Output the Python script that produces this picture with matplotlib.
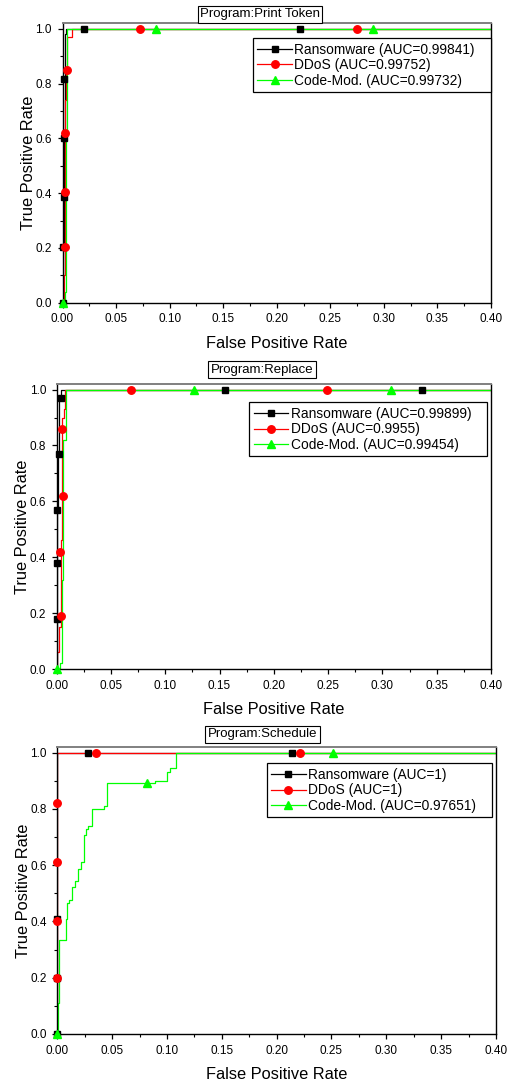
import matplotlib
matplotlib.use("Agg")
import matplotlib.pyplot as plt
from matplotlib.lines import Line2D
from matplotlib.ticker import MultipleLocator

plt.rcParams['font.family'] = ['Liberation Sans', 'DejaVu Sans']

# ---------------- data ----------------
series_names = ["Ransomware", "DDoS", "Code-Mod."]
titles = ["Program:Print Token", "Program:Replace", "Program:Schedule"]

# Panel 1: Print Token
auc_p1 = ["0.99841", "0.99752", "0.99732"]
p1_rans_fpr = [0, 0, 0.001, 0.002, 0.003, 0.4]
p1_rans_tpr = [0, 0.21, 0.62, 0.98, 1.0, 1.0]
p1_ddos_fpr = [0, 0.001, 0.002, 0.003, 0.004, 0.009, 0.4]
p1_ddos_tpr = [0, 0.10, 0.74, 0.85, 0.97, 1.0, 1.0]
p1_code_fpr = [0, 0.002, 0.003, 0.004, 0.4]
p1_code_tpr = [0, 0.04, 0.63, 1.0, 1.0]
p1_rans_mk_fpr = [0, 0, 0.001, 0.001, 0.0015, 0.0198, 0.2221]
p1_rans_mk_tpr = [0, 0.205, 0.385, 0.60, 0.815, 1.0, 1.0]
p1_ddos_mk_fpr = [0.002, 0.002, 0.002, 0.004, 0.0727, 0.2748]
p1_ddos_mk_tpr = [0.205, 0.405, 0.62, 0.85, 1.0, 1.0]
p1_code_mk_fpr = [0, 0.087, 0.2894]
p1_code_mk_tpr = [0, 1.0, 1.0]

# Panel 2: Replace
auc_p2 = ["0.99899", "0.9955", "0.99454"]
p2_rans_fpr = [0, 0, 0.001, 0.0025, 0.004, 0.4]
p2_rans_tpr = [0, 0.57, 0.77, 0.97, 1.0, 1.0]
p2_ddos_fpr = [0, 0.0005, 0.0025, 0.0035, 0.005, 0.0065, 0.008, 0.4]
p2_ddos_tpr = [0, 0.06, 0.15, 0.46, 0.90, 0.93, 1.0, 1.0]
p2_code_fpr = [0, 0.003, 0.0045, 0.0055, 0.009, 0.4]
p2_code_tpr = [0, 0.02, 0.32, 0.82, 1.0, 1.0]
p2_rans_mk_fpr = [0, 0, 0, 0.0021, 0.004, 0.155, 0.336]
p2_rans_mk_tpr = [0.18, 0.38, 0.57, 0.77, 0.97, 1.0, 1.0]
p2_ddos_mk_fpr = [0.0037, 0.003, 0.0055, 0.0052, 0.0685, 0.249]
p2_ddos_mk_tpr = [0.19, 0.42, 0.62, 0.86, 1.0, 1.0]
p2_code_mk_fpr = [0, 0.1265, 0.3076]
p2_code_mk_tpr = [0, 1.0, 1.0]

# Panel 3: Schedule
auc_p3 = ["1", "1", "0.97651"]
p3_rans_fpr = [0, 0, 0.4]
p3_rans_tpr = [0, 1.0, 1.0]
p3_ddos_fpr = [0, 0, 0.4]
p3_ddos_tpr = [0, 1.0, 1.0]
p3_code_fpr = [0, 0.0009, 0.0018, 0.0076, 0.0091, 0.0109, 0.0131, 0.0161, 0.0185,
               0.0213, 0.024, 0.0261, 0.0283, 0.0319, 0.0429, 0.045, 0.0891, 0.1003,
               0.1028, 0.1079, 0.4]
p3_code_tpr = [0, 0.109, 0.333, 0.41, 0.466, 0.477, 0.521, 0.543, 0.588,
               0.612, 0.709, 0.727, 0.741, 0.80, 0.81, 0.891, 0.90, 0.931,
               0.947, 1.0, 1.0]
p3_rans_mk_fpr = [0, 0, 0, 0.0283, 0.2138]
p3_rans_mk_tpr = [0, 0.2, 0.41, 1.0, 1.0]
p3_ddos_mk_fpr = [0, 0, 0, 0, 0.0353, 0.2217]
p3_ddos_mk_tpr = [0.2, 0.4, 0.61, 0.82, 1.0, 1.0]
p3_code_mk_fpr = [0, 0.082, 0.2517]
p3_code_mk_tpr = [0, 0.893, 1.0]

panels = [
    dict(title=titles[0], auc=auc_p1,
         curves=[(p1_rans_fpr, p1_rans_tpr), (p1_ddos_fpr, p1_ddos_tpr), (p1_code_fpr, p1_code_tpr)],
         marks=[(p1_rans_mk_fpr, p1_rans_mk_tpr), (p1_ddos_mk_fpr, p1_ddos_mk_tpr), (p1_code_mk_fpr, p1_code_mk_tpr)],
         rect=(62.5, 23.3, 491, 302.7), leg=(1.0, 0.947), tpos=(260, 14.2)),
    dict(title=titles[1], auc=auc_p2,
         curves=[(p2_rans_fpr, p2_rans_tpr), (p2_ddos_fpr, p2_ddos_tpr), (p2_code_fpr, p2_code_tpr)],
         marks=[(p2_rans_mk_fpr, p2_rans_mk_tpr), (p2_ddos_mk_fpr, p2_ddos_mk_tpr), (p2_code_mk_fpr, p2_code_mk_tpr)],
         rect=(56.7, 384, 491, 669), leg=(0.9915, 0.9358), tpos=(262, 369.5)),
    dict(title=titles[2], auc=auc_p3,
         curves=[(p3_rans_fpr, p3_rans_tpr), (p3_ddos_fpr, p3_ddos_tpr), (p3_code_fpr, p3_code_tpr)],
         marks=[(p3_rans_mk_fpr, p3_rans_mk_tpr), (p3_ddos_mk_fpr, p3_ddos_mk_tpr), (p3_code_mk_fpr, p3_code_mk_tpr)],
         rect=(57.3, 747, 496, 1034), leg=(0.9916, 0.943), tpos=(262.5, 734.5)),
]

colors = ["#000000", "#FF0000", "#00FF00"]
markers = ["s", "o", "^"]
msizes = [5.0, 5.4, 6.0]

W, H = 512, 1086
fig = plt.figure(figsize=(W / 100, H / 100), dpi=100)

for p in panels:
    l, t, r, b = p["rect"]
    ax = fig.add_axes([l / W, 1 - b / H, (r - l) / W, (b - t) / H])
    for (fx, ty), (mx, my), c, m, s in zip(p["curves"], p["marks"], colors, markers, msizes):
        ax.plot(fx, ty, color=c, lw=0.9, drawstyle="steps-post", zorder=2)
        ax.plot(mx, my, ls="none", marker=m, color=c, ms=s, mec=c, clip_on=False, zorder=3)
    ax.set_xlim(0, 0.4)
    ax.set_ylim(0, 1.02)
    ax.xaxis.set_major_locator(MultipleLocator(0.05))
    ax.xaxis.set_minor_locator(MultipleLocator(0.025))
    ax.yaxis.set_major_locator(MultipleLocator(0.2))
    ax.yaxis.set_minor_locator(MultipleLocator(0.1))
    ax.xaxis.set_major_formatter(plt.FormatStrFormatter("%.2f"))
    ax.yaxis.set_major_formatter(plt.FormatStrFormatter("%.1f"))
    ax.tick_params(which="major", direction="out", length=3.8, width=0.9, labelsize=8.5, pad=3.8)
    ax.tick_params(which="minor", direction="out", length=2.2, width=0.8)
    ax.tick_params(top=False, right=False, which="both")
    for sp in ["left", "bottom", "right"]:
        ax.spines[sp].set_color("black")
        ax.spines[sp].set_linewidth(1.0)
    ax.spines["top"].set_color("#808080")
    ax.spines["top"].set_linewidth(1.4)
    ax.set_xlabel("False Positive Rate", fontsize=11.8, labelpad=7.5)
    ax.set_ylabel("True Positive Rate", fontsize=11.8, labelpad=-0.5)

    handles = [Line2D([], [], color=c, marker=m, ms=s, lw=0.9)
               for c, m, s in zip(colors, markers, msizes)]
    labels = [f"{n} (AUC={a})   " for n, a in zip(series_names, p["auc"])]
    leg = ax.legend(handles, labels, loc="upper right", bbox_to_anchor=p["leg"],
                    borderaxespad=0, fontsize=9.9, frameon=True, fancybox=False,
                    edgecolor="black", framealpha=1, handlelength=2.5,
                    handletextpad=0.2, labelspacing=0.12, borderpad=0.32)
    leg.get_frame().set_linewidth(0.9)

    tx, ty = p["tpos"]
    fig.text(tx / W, 1 - ty / H, p["title"], ha="center", va="center", fontsize=9.5,
             bbox=dict(boxstyle="square,pad=0.18", fc="white", ec="black", lw=0.8))

fig.savefig("out.png", dpi=100)
